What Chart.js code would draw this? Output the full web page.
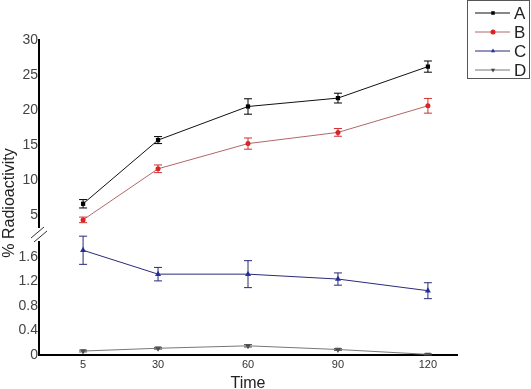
<!DOCTYPE html>
<html>
<head>
<meta charset="utf-8">
<script src="https://cdn.jsdelivr.net/npm/chart.js@4.4.1/dist/chart.umd.min.js"></script>
<style>
  body { margin: 0; background: #fff; }
  #wrap { width: 531px; height: 389px; }
</style>
</head>
<body>
<div id="wrap"><canvas id="chart"></canvas></div>
<script>
// waktu pengukuran dan nilai tiap seri
const times = [5, 30, 60, 90, 120];
const seriesA = [6.6, 15.7, 20.5, 21.7, 26.2];
const errA = [0.6, 0.5, 1.1, 0.7, 0.8];
const seriesB = [4.3, 11.6, 15.2, 16.8, 20.6];
const errB = [0.4, 0.55, 0.8, 0.55, 1.05];
const seriesC = [1.71, 1.32, 1.32, 1.24, 1.05];
const errC = [0.23, 0.11, 0.22, 0.1, 0.13];
const seriesD = [0.065, 0.11, 0.15, 0.09, 0.01];
const errD = [0.015, 0.015, 0.02, 0.015, 0.01];
const upperTicks = [5, 10, 15, 20, 25, 30];
const lowerTicks = [0, 0.4, 0.8, 1.2, 1.6];

const FONT = 'Liberation Sans, Arial, sans-serif';

function toPoints(values, errs) {
  return values.map((v, i) => ({ x: times[i], y: v, err: errs[i] }));
}

// error bar di tiap titik
const errorBars = {
  id: 'errorBars',
  afterDatasetsDraw(chart) {
    const ctx = chart.ctx;
    chart.data.datasets.forEach((ds, di) => {
      const meta = chart.getDatasetMeta(di);
      const scale = chart.scales[ds.yAxisID];
      ctx.save();
      ctx.strokeStyle = ds.errorColor;
      ctx.lineWidth = 1;
      meta.data.forEach((pt, i) => {
        const d = ds.data[i];
        const top = scale.getPixelForValue(d.y + d.err);
        const bot = scale.getPixelForValue(Math.max(d.y - d.err, scale.min));
        ctx.beginPath();
        ctx.moveTo(pt.x, top); ctx.lineTo(pt.x, bot);
        ctx.moveTo(pt.x - 4, top); ctx.lineTo(pt.x + 4, top);
        ctx.moveTo(pt.x - 4, bot); ctx.lineTo(pt.x + 4, bot);
        ctx.stroke();
      });
      ctx.restore();
    });
  }
};

// tanda patah sumbu y, judul sumbu y, dan legenda berbingkai
const decorations = {
  id: 'decorations',
  afterDraw(chart) {
    const ctx = chart.ctx;
    const x0 = chart.chartArea.left;
    ctx.save();
    ctx.fillStyle = '#fff';
    ctx.fillRect(x0 - 3, 228, 6, 13);
    ctx.strokeStyle = '#333';
    ctx.lineWidth = 1;
    ctx.beginPath();
    ctx.moveTo(x0 - 8, 238); ctx.lineTo(x0 + 5, 227);
    ctx.moveTo(x0 - 5, 242); ctx.lineTo(x0 + 8, 231);
    ctx.stroke();

    ctx.translate(10, 203);
    ctx.rotate(-Math.PI / 2);
    ctx.fillStyle = '#222';
    ctx.font = '16px ' + FONT;
    ctx.textAlign = 'center';
    ctx.textBaseline = 'middle';
    ctx.fillText('% Radioactivity', 0, 0);
    ctx.restore();

    ctx.save();
    ctx.strokeStyle = '#555';
    ctx.lineWidth = 1;
    ctx.strokeRect(467.5, 0.5, 62, 78);
    chart.data.datasets.forEach((ds, i) => {
      const y = 13 + i * 19;
      ctx.strokeStyle = ds.borderColor;
      ctx.beginPath();
      ctx.moveTo(475, y); ctx.lineTo(510, y);
      ctx.stroke();
      ctx.fillStyle = ds.pointBackgroundColor;
      ctx.strokeStyle = ds.pointBackgroundColor;
      Chart.helpers.drawPoint(ctx, {
        pointStyle: ds.pointStyle, radius: 2.5,
        rotation: ds.pointRotation || 0, borderWidth: 0
      }, 493, y);
      ctx.fillStyle = '#222';
      ctx.font = '17px ' + FONT;
      ctx.textBaseline = 'middle';
      ctx.fillText(ds.label, 514, y + 1);
    });
    ctx.restore();
  }
};

const yTicks = { color: '#444', font: { family: FONT, size: 14 }, padding: 1, autoSkip: false };

const ctx = document.getElementById('chart').getContext('2d');
new Chart(ctx, {
  type: 'line',
  data: {
    datasets: [
      { label: 'A', data: toPoints(seriesA, errA), yAxisID: 'yUp',
        borderColor: '#111', pointBackgroundColor: '#000', errorColor: '#000',
        pointStyle: 'rect', pointRadius: 3 },
      { label: 'B', data: toPoints(seriesB, errB), yAxisID: 'yUp',
        borderColor: '#b06868', pointBackgroundColor: '#e02020', errorColor: '#d03030',
        pointStyle: 'circle', pointRadius: 2.5 },
      { label: 'C', data: toPoints(seriesC, errC), yAxisID: 'yLow',
        borderColor: '#2a2a78', pointBackgroundColor: '#2233aa', errorColor: '#2a2a78',
        pointStyle: 'triangle', pointRadius: 3.5 },
      { label: 'D', data: toPoints(seriesD, errD), yAxisID: 'yLow',
        borderColor: '#777', pointBackgroundColor: '#444', errorColor: '#555',
        pointStyle: 'triangle', pointRotation: 180, pointRadius: 3.5 }
    ]
  },
  options: {
    responsive: true,
    maintainAspectRatio: false,
    animation: false,
    layout: { padding: { top: 40, right: 74, left: 0, bottom: 0 } },
    elements: {
      line: { borderWidth: 1, tension: 0 },
      point: { borderWidth: 0, hoverRadius: 3 }
    },
    scales: {
      x: {
        type: 'linear', min: -9.7, max: 129.7,
        afterBuildTicks: (s) => { s.ticks = times.map(v => ({ value: v })); },
        afterFit: (s) => { s.height = 34; },
        grid: { display: false, drawTicks: false },
        border: { color: '#000', width: 2 },
        ticks: { color: '#333', font: { family: FONT, size: 11 }, padding: 3, autoSkip: false },
        title: { display: true, text: 'Time', color: '#222',
                 font: { family: FONT, size: 16 }, padding: { top: 0, bottom: -4 } }
      },
      yLow: {
        type: 'linear', position: 'left', stack: 'rad', stackWeight: 113,
        min: 0, max: 1.845,
        afterBuildTicks: (s) => { s.ticks = lowerTicks.map(v => ({ value: v })); },
        afterFit: (s) => { s.width = 39; },
        grid: { display: false, drawTicks: false },
        border: { color: '#000', width: 2 },
        ticks: Object.assign({}, yTicks, {
          callback: (v) => v === 0 ? '0' : v.toFixed(1)
        })
      },
      yUp: {
        type: 'linear', position: 'left', stack: 'rad', stackWeight: 202,
        min: 1.14, max: 30,
        afterBuildTicks: (s) => { s.ticks = upperTicks.map(v => ({ value: v })); },
        afterFit: (s) => { s.width = 39; },
        grid: { display: false, drawTicks: false },
        border: { color: '#000', width: 2 },
        ticks: yTicks
      }
    },
    plugins: {
      legend: { display: false },
      tooltip: { enabled: false }
    }
  },
  plugins: [errorBars, decorations]
});
</script>
</body>
</html>
